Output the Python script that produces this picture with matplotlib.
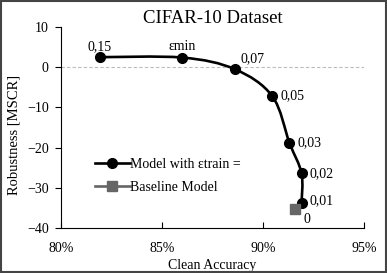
import numpy as np
import matplotlib
matplotlib.use("Agg")
import matplotlib.pyplot as plt
from matplotlib.path import Path
from matplotlib.patches import PathPatch, Rectangle
from matplotlib.lines import Line2D

plt.rcParams['font.family'] = ['Liberation Serif', 'DejaVu Serif']
plt.rcParams['font.size'] = 10

# =========================
# Data
# =========================
eps_labels = ['0,15', 'εmin', '0,07', '0,05', '0,03', '0,02', '0,01']
model_acc = [81.9, 86.0, 88.6, 90.45, 91.3, 91.9, 91.9]
model_rob = [2.5, 2.4, -0.5, -7.2, -18.8, -26.4, -33.8]
base_label = '0'
base_acc = [91.6]
base_rob = [-35.3]

# label offsets (points) and alignment around each marker
label_pos = [((0, 3), 'center', 'bottom'), ((0, 3), 'center', 'bottom'),
             ((4, 3), 'left', 'bottom'), ((6, 0), 'left', 'center'),
             ((6, 0), 'left', 'center'), ((6, 0), 'left', 'center'),
             ((6, 2), 'left', 'center')]

fig = plt.figure(figsize=(3.87, 2.73), dpi=100)
ax = fig.add_axes([0.158, 0.165, 0.783, 0.736])

# smooth line like excel (bezier through the points)
pts = np.column_stack([model_acc, model_rob])
verts = [pts[0]]
codes = [Path.MOVETO]
n = len(pts)
for i in range(n - 1):
    p0 = pts[i - 1] if i > 0 else pts[i]
    p1 = pts[i]
    p2 = pts[i + 1]
    p3 = pts[i + 2] if i + 2 < n else pts[i + 1]
    c1 = p1 + (p2 - p0) / 6
    c2 = p2 - (p3 - p1) / 6
    verts += [c1, c2, p2]
    codes += [Path.CURVE4] * 3
ax.add_patch(PathPatch(Path(verts, codes), fill=False, lw=1.9, color='black', zorder=3))
ax.plot(model_acc, model_rob, 'o', color='black', ms=7, zorder=4)
ax.plot(base_acc, base_rob, 's', color='#666666', ms=7, zorder=4)

for lab, x, y, (off, ha, va) in zip(eps_labels, model_acc, model_rob, label_pos):
    ax.annotate(lab, (x, y), xytext=off, textcoords='offset points',
                ha=ha, va=va, fontsize=10)
ax.annotate(base_label, (base_acc[0], base_rob[0]), xytext=(6, -3),
            textcoords='offset points', ha='left', va='top', fontsize=10)

ax.axhline(0, color='#bbbbbb', lw=0.8, ls=(0, (3, 2)), zorder=1)

ax.set_xlim(80, 95)
ax.set_ylim(-40, 10)
ax.set_xticks([80, 85, 90, 95])
ax.set_xticklabels(['80%', '85%', '90%', '95%'])
ax.set_yticks([-40, -30, -20, -10, 0, 10])
ax.spines['top'].set_visible(False)
ax.spines['right'].set_visible(False)
ax.tick_params(axis='x', direction='in', length=4, pad=10)
ax.tick_params(axis='y', direction='out', length=4, pad=5)
ax.set_xlabel('Clean Accuracy', labelpad=3)
ax.set_ylabel('Robustness [MSCR]', fontsize=10.5)
ax.yaxis.set_label_coords(-0.135, 0.463)
ax.set_title('CIFAR-10 Dataset', fontsize=13.5, pad=-2.5)

handles = [
    Line2D([], [], color='black', lw=1.9, marker='o', ms=7),
    Line2D([], [], color='#666666', lw=1.9, marker='s', ms=7),
]
ax.legend(handles, ['Model with εtrain =', 'Baseline Model'], loc='upper left',
          bbox_to_anchor=(0.07, 0.41), frameon=False, handlelength=2.5,
          handletextpad=0.0, labelspacing=0.7)

fig.add_artist(Rectangle((0.002, 0.003), 0.995, 0.994, transform=fig.transFigure,
                         fill=False, lw=1.5, edgecolor='#444444'))

fig.savefig('out.png', dpi=100)
